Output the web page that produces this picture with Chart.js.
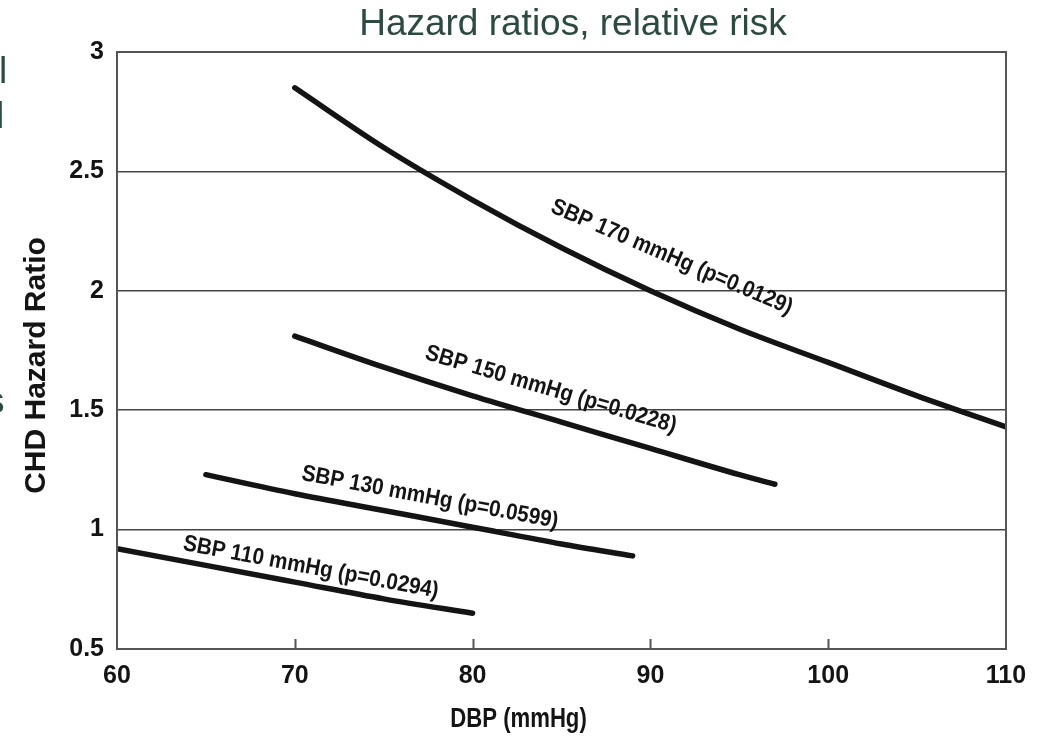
<!DOCTYPE html>
<html>
<head>
<meta charset="utf-8">
<script src="https://cdn.jsdelivr.net/npm/chart.js@4.4.1/dist/chart.umd.min.js"></script>
<style>
  html, body { margin: 0; padding: 0; background: #fff; }
  #wrap { position: relative; width: 1056px; height: 736px; overflow: hidden; }
  .slide { position: absolute; font: 37px "Liberation Sans", Arial, sans-serif; line-height: 37px; color: #2c4a42; white-space: nowrap; }
  #title { left: 573px; top: 4px; transform: translateX(-50%); }
  canvas { position: absolute; left: 0; top: 0; }
</style>
</head>
<body>
<div id="wrap">
  <canvas id="hrChart" width="1056" height="736"></canvas>
  <div class="slide" id="title">Hazard ratios, relative risk</div>
  <!-- bits of the slide text that run off the left edge -->
  <div class="slide" style="left:-1px; top:52px;">l</div>
  <div class="slide" style="left:-4px; top:97px;">l</div>
  <div class="slide" style="left:-14px; top:382px;">s</div>
</div>
<script>
// axis ticks
const dbpTicks = [60, 70, 80, 90, 100, 110];
const hrTicks = [0.5, 1, 1.5, 2, 2.5, 3];

// hazard ratio curves, one per systolic level
const dbp170 = [70, 75, 80, 85, 90, 95, 100, 105, 110];
const hr170 = [2.85, 2.60, 2.38, 2.18, 2.00, 1.84, 1.70, 1.56, 1.43];

const dbp150 = [70, 75, 80, 85, 90, 95, 97];
const hr150 = [1.81, 1.68, 1.56, 1.45, 1.34, 1.23, 1.19];

const dbp130 = [65, 70, 75, 80, 85, 89];
const hr130 = [1.23, 1.15, 1.08, 1.01, 0.94, 0.89];

const dbp110 = [60, 65, 70, 75, 80];
const hr110 = [0.92, 0.85, 0.78, 0.71, 0.65];

// in-plot curve labels and where they sit (data units)
const curveLabels = ['SBP 170 mmHg (p=0.0129)', 'SBP 150 mmHg (p=0.0228)', 'SBP 130 mmHg (p=0.0599)', 'SBP 110 mmHg (p=0.0294)'];
const labelDbp = [91.2, 84.4, 77.6, 70.9];
const labelHr = [2.14, 1.586, 1.134, 0.841];

const curves = [[dbp170, hr170], [dbp150, hr150], [dbp130, hr130], [dbp110, hr110]];

const INK = '#141414';
const FAMILY = '"Liberation Sans", Arial, sans-serif';
const boldFont = size => ({ family: FAMILY, size: size, weight: 'bold' });

// the figure's lettering is a narrow bold face, so squeeze it a little
function narrowText(ctx, text, x, y, angle, squeeze) {
    ctx.save();
    ctx.translate(x, y);
    ctx.rotate(angle);
    ctx.scale(squeeze, 1);
    ctx.fillText(text, 0, 0);
    ctx.restore();
}

const plotExtras = {
    id: 'plotExtras',
    afterDatasetsDraw(chart) {
        const ctx = chart.ctx;
        const area = chart.chartArea;
        const xs = chart.scales.x;
        const ys = chart.scales.y;
        ctx.save();

        // frame
        ctx.strokeStyle = '#555';
        ctx.lineWidth = 2;
        ctx.strokeRect(area.left, area.top, area.right - area.left, area.bottom - area.top);

        // short tick marks rising from the bottom edge
        ctx.beginPath();
        dbpTicks.slice(1, -1).forEach(v => {
            const px = Math.round(xs.getPixelForValue(v)) + 0.5;
            ctx.moveTo(px, area.bottom);
            ctx.lineTo(px, area.bottom - 10);
        });
        ctx.stroke();

        // curve labels, turned to follow their curve
        ctx.fillStyle = INK;
        ctx.font = 'bold 23px ' + FAMILY;
        ctx.textAlign = 'center';
        ctx.textBaseline = 'middle';
        curveLabels.forEach((text, i) => {
            const [dbp, hr] = curves[i];
            let j = 0;
            while (j < dbp.length - 2 && dbp[j + 1] <= labelDbp[i]) j++;
            const angle = Math.atan2(
                ys.getPixelForValue(hr[j + 1]) - ys.getPixelForValue(hr[j]),
                xs.getPixelForValue(dbp[j + 1]) - xs.getPixelForValue(dbp[j])
            );
            narrowText(ctx, text, xs.getPixelForValue(labelDbp[i]), ys.getPixelForValue(labelHr[i]), angle, 0.9);
        });

        // axis titles
        ctx.font = 'bold 27px ' + FAMILY;
        narrowText(ctx, 'DBP (mmHg)', (area.left + area.right) / 2 - 43, area.bottom + 71, 0, 0.82);
        ctx.font = 'bold 30px ' + FAMILY;
        narrowText(ctx, 'CHD Hazard Ratio', area.left - 80, (area.top + area.bottom) / 2 + 15, -Math.PI / 2, 1);

        ctx.restore();
    }
};

new Chart(document.getElementById('hrChart'), {
    type: 'line',
    data: {
        datasets: curves.map(([dbp, hr], i) => ({
            label: curveLabels[i],
            data: dbp.map((d, k) => ({ x: d, y: hr[k] })),
            borderColor: INK,
            borderWidth: 5.5,
            borderCapStyle: 'round',
            pointRadius: 0,
            cubicInterpolationMode: 'monotone'
        }))
    },
    options: {
        responsive: false,
        animation: false,
        devicePixelRatio: 1,
        layout: { padding: { top: 52, right: 50, left: 0, bottom: 0 } },
        plugins: { legend: { display: false }, tooltip: { enabled: false }, title: { display: false } },
        scales: {
            x: {
                type: 'linear',
                min: 60,
                max: 110,
                afterBuildTicks: scale => { scale.ticks = dbpTicks.map(v => ({ value: v })); },
                afterFit: scale => { scale.height = 87; },
                grid: { display: false },
                border: { display: false },
                ticks: { color: INK, font: boldFont(25), padding: 4, maxRotation: 0 }
            },
            y: {
                min: 0.5,
                max: 3,
                afterBuildTicks: scale => { scale.ticks = hrTicks.map(v => ({ value: v })); },
                afterFit: scale => { scale.width = 117; },
                grid: { color: '#454545', lineWidth: 1.6, drawTicks: false },
                border: { display: false },
                ticks: { color: INK, font: boldFont(25), padding: 13, callback: v => String(v) }
            }
        }
    },
    plugins: [plotExtras]
});
</script>
</body>
</html>
